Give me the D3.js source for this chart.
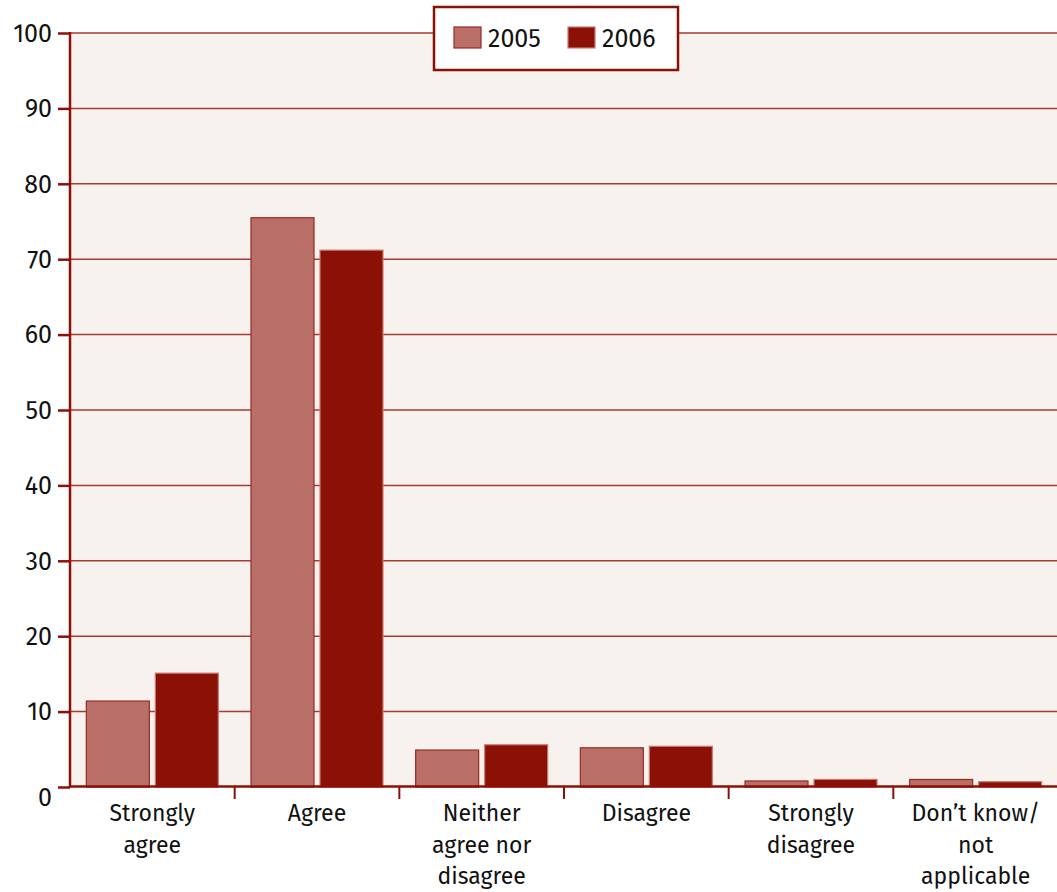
<!DOCTYPE html>
<html>
<head>
<meta charset="utf-8">
<script src="https://cdn.jsdelivr.net/npm/d3@7"></script>
<style>
  html, body { margin: 0; padding: 0; background: #ffffff; }
  svg { display: block; }
  svg text { font-family: "Fira Sans", "Noto Sans", "Open Sans", sans-serif; }
</style>
</head>
<body>
<svg id="chart" width="1057" height="892"></svg>
<script>
// Survey responses by year (percent)
const categories = [
  ["Strongly", "agree"],
  ["Agree"],
  ["Neither", "agree nor", "disagree"],
  ["Disagree"],
  ["Strongly", "disagree"],
  ["Don\u2019t know/", "not", "applicable"]
];
const seriesNames = ["2005", "2006"];
const values2005 = [11.4, 75.5, 4.9, 5.2, 0.8, 1.0];
const values2006 = [15.1, 71.2, 5.6, 5.4, 1.0, 0.7];
const yTicks = [0, 10, 20, 30, 40, 50, 60, 70, 80, 90, 100];

const colors = { "2005": "#b96e68", "2006": "#8b1006" };
const dark = "#8b1006";
const fontStack = '"Fira Sans", "Noto Sans", "Open Sans", sans-serif';

const svg = d3.select("#chart");
const mLeft = 70, mRight = 1058, mTop = 33, mBottom = 787;

const catKeys = categories.map((c, i) => i);
const x = d3.scaleBand().domain(catKeys).range([mLeft, mRight]).paddingInner(0).paddingOuter(0);
const y = d3.scaleLinear().domain([0, 100]).range([mBottom, mTop]);

const barW = 63, barGap = 6;
const groupW = barW * 2 + barGap;

// plot background
svg.append("rect")
  .attr("x", mLeft).attr("y", mTop)
  .attr("width", 1057 - mLeft).attr("height", mBottom - mTop)
  .attr("fill", "#f8f2ef");

// horizontal gridlines
svg.append("g").selectAll("line")
  .data(yTicks.filter(t => t > 0))
  .join("line")
  .attr("x1", mLeft).attr("x2", 1057)
  .attr("y1", d => y(d)).attr("y2", d => y(d))
  .attr("stroke", "#a83a32").attr("stroke-width", 1.5);

// bars
const rows = catKeys.map(i => ({ i, v: [values2005[i], values2006[i]] }));
const groups = svg.append("g").selectAll("g")
  .data(rows).join("g")
  .attr("transform", d => `translate(${x(d.i) + (x.bandwidth() - groupW) / 2},0)`);

groups.selectAll("rect")
  .data(d => d.v.map((v, k) => ({ v, k })))
  .join("rect")
  .attr("x", d => d.k * (barW + barGap))
  .attr("y", d => y(d.v))
  .attr("width", barW)
  .attr("height", d => y(0) - y(d.v))
  .attr("fill", d => colors[seriesNames[d.k]])
  .attr("stroke", d => d.k === 0 ? "#9a2a22" : "#c87a72")
  .attr("stroke-width", 1.2);

// y axis
const yAxis = svg.append("g")
  .attr("transform", `translate(${mLeft},0)`)
  .call(d3.axisLeft(y).tickValues(yTicks).tickSize(12).tickPadding(6));
yAxis.attr("font-family", fontStack);
yAxis.select(".domain").remove();
yAxis.selectAll(".tick line").attr("stroke", dark).attr("stroke-width", 2.5);
yAxis.selectAll(".tick text")
  .attr("fill", "#111").attr("font-size", 25)
  .attr("dy", d => d === 0 ? "0.75em" : "0.33em");
svg.append("line")
  .attr("x1", mLeft).attr("x2", mLeft)
  .attr("y1", mTop - 1).attr("y2", mBottom)
  .attr("stroke", dark).attr("stroke-width", 2.5);

// x axis
const xAxis = svg.append("g")
  .attr("transform", `translate(0,${mBottom})`)
  .call(d3.axisBottom(x).tickSize(0).tickFormat(""));
xAxis.select(".domain").remove();
svg.append("line")
  .attr("x1", mLeft).attr("x2", 1057)
  .attr("y1", mBottom - 0.5).attr("y2", mBottom - 0.5)
  .attr("stroke", dark).attr("stroke-width", 2.5);
svg.append("g").selectAll("line")
  .data(catKeys.slice(1))
  .join("line")
  .attr("x1", d => x(d)).attr("x2", d => x(d))
  .attr("y1", mBottom).attr("y2", mBottom + 12)
  .attr("stroke", dark).attr("stroke-width", 2);

// category labels
const labels = svg.append("g").selectAll("text")
  .data(catKeys).join("text")
  .attr("x", d => x(d) + x.bandwidth() / 2)
  .attr("y", mBottom + 34)
  .attr("text-anchor", "middle")
  .attr("font-size", 23)
  .attr("fill", "#111");
labels.selectAll("tspan")
  .data(d => categories[d].map((t, j) => ({ t, j, d })))
  .join("tspan")
  .attr("x", s => x(s.d) + x.bandwidth() / 2)
  .attr("dy", s => s.j === 0 ? 0 : 31.5)
  .text(s => s.t);

// legend
const lg = svg.append("g").attr("transform", "translate(434,7)");
lg.append("rect")
  .attr("width", 244).attr("height", 63)
  .attr("fill", "#ffffff").attr("stroke", dark).attr("stroke-width", 2.5);
const items = lg.selectAll("g.item").data(seriesNames).join("g")
  .attr("class", "item")
  .attr("transform", (d, i) => `translate(${20 + i * 114},20)`);
items.append("rect")
  .attr("width", 27).attr("height", 21)
  .attr("fill", d => colors[d])
  .attr("stroke", d => d === "2005" ? "#9a2a22" : "#c87a72")
  .attr("stroke-width", 1.2);
items.append("text")
  .attr("x", 34).attr("y", 20)
  .attr("font-size", 25).attr("fill", "#111")
  .text(d => d);
</script>
</body>
</html>
